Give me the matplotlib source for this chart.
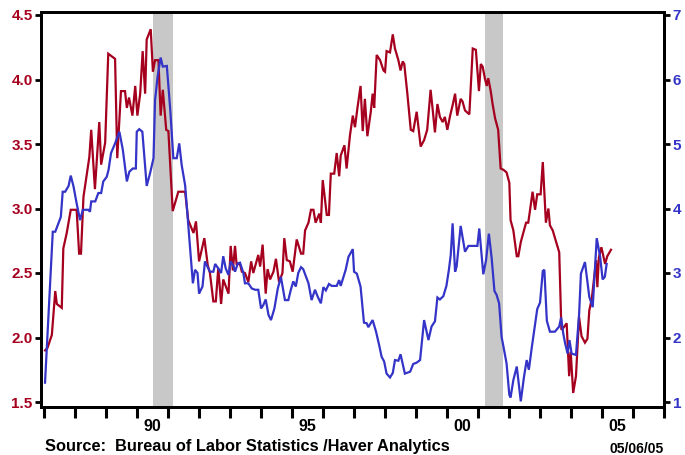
import matplotlib

matplotlib.use("Agg")
import matplotlib.pyplot as plt
from matplotlib.ticker import FixedLocator, FixedFormatter, NullFormatter

RED = "#a6001f"
BLUE = "#3434c8"
SHADE = "#c8c8c8"

# red series, left axis (decimal year, value)
red_years = [
    1987.04, 1987.12, 1987.26, 1987.37, 1987.42, 1987.58, 1987.63, 1987.74, 1987.87, 1988.06,
    1988.14, 1988.20, 1988.28, 1988.47, 1988.53, 1988.65, 1988.79, 1988.85, 1988.98, 1989.08,
    1989.30, 1989.37, 1989.49, 1989.62, 1989.68, 1989.75, 1989.86, 1989.95, 1990.02, 1990.11,
    1990.19, 1990.27, 1990.32, 1990.45, 1990.52, 1990.59, 1990.70, 1990.77, 1990.84, 1990.95,
    1991.02, 1991.16, 1991.34, 1991.56, 1991.66, 1991.83, 1991.91, 1992.01, 1992.18, 1992.29,
    1992.36, 1992.47, 1992.55, 1992.63, 1992.72, 1992.79, 1992.96, 1993.03, 1993.10, 1993.17,
    1993.22, 1993.33, 1993.39, 1993.49, 1993.60, 1993.69, 1993.76, 1993.92, 1993.98, 1994.06,
    1994.16, 1994.22, 1994.30, 1994.41, 1994.49, 1994.59, 1994.70, 1994.76, 1994.84, 1994.94,
    1995.03, 1995.16, 1995.30, 1995.37, 1995.43, 1995.54, 1995.62, 1995.70, 1995.77, 1995.89,
    1995.94, 1996.00, 1996.13, 1996.20, 1996.26, 1996.37, 1996.45, 1996.53, 1996.58, 1996.70,
    1996.77, 1996.88, 1996.97, 1997.04, 1997.12, 1997.22, 1997.29, 1997.36, 1997.44, 1997.55,
    1997.61, 1997.66, 1997.74, 1997.85, 1997.96, 1998.01, 1998.06, 1998.17, 1998.26, 1998.33,
    1998.44, 1998.51, 1998.58, 1998.63, 1998.73, 1998.84, 1998.92, 1999.03, 1999.16, 1999.27,
    1999.37, 1999.48, 1999.55, 1999.62, 1999.70, 1999.78, 1999.87, 1999.94, 2000.02, 2000.11,
    2000.19, 2000.27, 2000.34, 2000.45, 2000.51, 2000.59, 2000.73, 2000.84, 2000.94, 2001.04,
    2001.10, 2001.16, 2001.23, 2001.29, 2001.34, 2001.42, 2001.48, 2001.56, 2001.66, 2001.74,
    2001.83, 2001.93, 2002.02, 2002.06, 2002.15, 2002.26, 2002.31, 2002.39, 2002.49, 2002.56,
    2002.63, 2002.69, 2002.77, 2002.85, 2002.92, 2003.03, 2003.10, 2003.20, 2003.28, 2003.33,
    2003.42, 2003.53, 2003.63, 2003.70, 2003.78, 2003.87, 2003.95, 2004.00, 2004.08, 2004.17,
    2004.27, 2004.35, 2004.46, 2004.54, 2004.60, 2004.68, 2004.75, 2004.82, 2004.86, 2004.91,
    2004.99, 2005.11, 2005.18, 2005.30,
]
red_values = [
    1.90, 1.92, 2.02, 2.36, 2.26, 2.23, 2.69, 2.81, 2.99, 2.99,
    2.65, 2.65, 3.09, 3.40, 3.61, 3.15, 3.67, 3.34, 3.51, 4.20,
    4.16, 3.39, 3.91, 3.91, 3.78, 3.86, 3.72, 3.95, 3.72, 3.89,
    4.22, 3.89, 4.31, 4.39, 4.06, 4.15, 4.15, 3.72, 3.92, 3.61,
    3.60, 2.98, 3.13, 3.13, 2.91, 2.81, 2.90, 2.59, 2.77, 2.56,
    2.50, 2.28, 2.28, 2.54, 2.26, 2.45, 2.34, 2.71, 2.52, 2.71,
    2.57, 2.57, 2.51, 2.50, 2.43, 2.59, 2.50, 2.64, 2.55, 2.72,
    2.34, 2.53, 2.45, 2.51, 2.61, 2.43, 2.50, 2.77, 2.60, 2.59,
    2.51, 2.76, 2.65, 2.65, 2.83, 2.89, 2.99, 2.99, 2.89, 2.96,
    2.89, 3.22, 2.95, 2.95, 3.27, 3.27, 3.43, 3.25, 3.41, 3.49,
    3.31, 3.57, 3.72, 3.63, 3.78, 3.95, 3.60, 3.85, 3.56, 3.75,
    3.89, 3.78, 4.19, 4.15, 4.07, 4.06, 4.22, 4.21, 4.35, 4.24,
    4.15, 4.07, 4.14, 4.12, 3.89, 3.61, 3.60, 3.75, 3.48, 3.53,
    3.61, 3.92, 3.76, 3.59, 3.81, 3.71, 3.67, 3.71, 3.61, 3.72,
    3.80, 3.89, 3.72, 3.85, 3.83, 3.76, 3.73, 4.24, 4.23, 3.91,
    4.12, 4.10, 4.01, 3.95, 4.01, 3.91, 3.81, 3.70, 3.61, 3.31,
    3.30, 3.28, 3.20, 2.91, 2.83, 2.63, 2.63, 2.74, 2.83, 2.89,
    2.89, 2.99, 3.13, 2.99, 3.11, 3.11, 3.36, 2.89, 3.00, 2.87,
    2.83, 2.74, 2.66, 2.06, 2.08, 2.11, 1.70, 1.89, 1.57, 1.70,
    2.16, 2.01, 1.96, 1.99, 2.21, 2.30, 2.45, 2.60, 2.39, 2.62,
    2.70, 2.57, 2.63, 2.68,
]

# blue series, right axis (decimal year, value)
blue_years = [
    1987.04, 1987.12, 1987.29, 1987.37, 1987.55, 1987.61, 1987.69, 1987.80, 1987.87, 1987.96,
    1988.06, 1988.17, 1988.26, 1988.44, 1988.49, 1988.53, 1988.66, 1988.76, 1988.85, 1988.92,
    1989.03, 1989.09, 1989.17, 1989.30, 1989.44, 1989.55, 1989.68, 1989.76, 1989.87, 1989.97,
    1990.00, 1990.08, 1990.18, 1990.32, 1990.43, 1990.54, 1990.59, 1990.67, 1990.77, 1990.84,
    1990.97, 1991.08, 1991.18, 1991.29, 1991.37, 1991.45, 1991.56, 1991.67, 1991.81, 1991.88,
    1991.96, 1992.01, 1992.12, 1992.20, 1992.36, 1992.47, 1992.53, 1992.63, 1992.72, 1992.79,
    1992.87, 1992.96, 1993.03, 1993.12, 1993.17, 1993.26, 1993.33, 1993.44, 1993.49, 1993.60,
    1993.71, 1993.82, 1993.92, 1994.01, 1994.08, 1994.16, 1994.25, 1994.33, 1994.44, 1994.55,
    1994.65, 1994.78, 1994.89, 1994.97, 1995.05, 1995.13, 1995.21, 1995.30, 1995.37, 1995.54,
    1995.64, 1995.75, 1995.84, 1995.94, 1996.02, 1996.10, 1996.20, 1996.29, 1996.45, 1996.53,
    1996.58, 1996.67, 1996.74, 1996.83, 1996.97, 1997.01, 1997.10, 1997.22, 1997.33, 1997.42,
    1997.47, 1997.61, 1997.72, 1997.83, 1997.90, 1997.98, 1998.06, 1998.17, 1998.26, 1998.33,
    1998.44, 1998.51, 1998.58, 1998.65, 1998.82, 1998.92, 1999.03, 1999.14, 1999.27, 1999.41,
    1999.51, 1999.62, 1999.70, 1999.78, 1999.89, 1999.99, 2000.07, 2000.13, 2000.19, 2000.27,
    2000.32, 2000.45, 2000.59, 2000.70, 2000.99, 2001.05, 2001.18, 2001.27, 2001.36, 2001.45,
    2001.54, 2001.61, 2001.69, 2001.77, 2001.83, 2001.93, 2002.02, 2002.06, 2002.15, 2002.26,
    2002.31, 2002.39, 2002.49, 2002.58, 2002.65, 2002.74, 2002.82, 2002.92, 2003.01, 2003.10,
    2003.15, 2003.23, 2003.33, 2003.49, 2003.63, 2003.69, 2003.76, 2003.82, 2003.90, 2003.96,
    2004.03, 2004.17, 2004.27, 2004.33, 2004.46, 2004.60, 2004.71, 2004.84, 2004.95, 2005.03,
    2005.10, 2005.16,
]
blue_values = [
    1.30, 2.04, 3.64, 3.64, 3.87, 4.26, 4.26, 4.35, 4.51, 4.34,
    4.08, 3.82, 3.98, 3.98, 3.95, 4.11, 4.11, 4.24, 4.24, 4.42,
    4.49, 4.60, 4.86, 5.01, 5.19, 4.91, 4.42, 4.57, 4.62, 4.62,
    5.19, 5.23, 5.19, 4.35, 4.55, 4.78, 5.68, 6.04, 6.34, 6.20,
    6.21, 5.53, 4.78, 4.78, 5.01, 4.67, 4.36, 3.69, 2.84, 3.05,
    3.00, 2.68, 2.79, 3.18, 3.02, 3.02, 3.14, 3.07, 3.00, 3.26,
    3.07, 2.97, 3.18, 3.11, 3.02, 3.15, 3.16, 3.00, 2.84, 2.84,
    2.76, 2.74, 2.74, 2.45, 2.50, 2.59, 2.35, 2.27, 2.45, 2.76,
    2.94, 2.58, 2.58, 2.74, 2.87, 2.79, 3.00, 3.09, 3.06, 2.84,
    2.58, 2.74, 2.63, 2.53, 2.78, 2.73, 2.83, 2.80, 2.80, 2.89,
    2.80, 2.94, 3.05, 3.25, 3.37, 3.02, 2.99, 2.79, 2.23, 2.22,
    2.16, 2.27, 2.09, 1.86, 1.70, 1.63, 1.44, 1.38, 1.45, 1.65,
    1.64, 1.74, 1.59, 1.44, 1.47, 1.59, 1.61, 1.65, 2.27, 1.96,
    2.17, 2.25, 2.62, 2.59, 2.64, 2.80, 3.05, 3.28, 3.77, 3.02,
    3.10, 3.73, 3.33, 3.42, 3.42, 3.69, 2.98, 3.20, 3.61, 3.23,
    2.72, 2.66, 2.53, 2.01, 1.86, 1.60, 1.11, 1.07, 1.34, 1.55,
    1.34, 1.01, 1.38, 1.65, 1.50, 1.83, 2.10, 2.44, 2.54, 3.03,
    3.05, 2.26, 2.09, 2.09, 2.17, 2.31, 2.06, 1.91, 1.75, 1.96,
    1.75, 1.73, 2.35, 2.99, 3.17, 2.63, 2.47, 3.54, 3.25, 2.90,
    2.94, 3.14,
]

recessions = [(1990.53, 1991.16), (2001.23, 2001.82)]
year_ticks = list(range(1987, 2008))
label_years = [1990.5, 1995.5, 2000.5, 2005.5]
label_text = ["90", "95", "00", "05"]
left_ticks = [1.5, 2.0, 2.5, 3.0, 3.5, 4.0, 4.5]
right_ticks = [1, 2, 3, 4, 5, 6, 7]

FONT = "Liberation Sans"


def main() -> None:
    plt.rcParams["font.family"] = [FONT, "DejaVu Sans"]
    plt.rcParams["font.weight"] = "bold"

    fig = plt.figure(figsize=(6.85, 4.55), dpi=100)
    ax = fig.add_axes([41 / 685, 1 - 406.5 / 455, (664.3 - 41) / 685, (406.5 - 12) / 455])
    ax2 = ax.twinx()

    for a, b in recessions:
        ax.axvspan(a, b, color=SHADE, lw=0, zorder=0)

    ax.plot(red_years, red_values, color=RED, lw=1.6, solid_joinstyle="miter", zorder=3)
    ax2.plot(blue_years, blue_values, color=BLUE, lw=1.6, solid_joinstyle="miter", zorder=3)

    ax.set_xlim(1986.91, 2007.02)
    ax.set_ylim(4.5 - 391.5 / 129, 4.5 + 3 / 129)
    ax2.set_ylim(7 - 391.5 / 64.5, 7 + 3 / 64.5)

    ax.xaxis.set_major_locator(FixedLocator(year_ticks))
    ax.xaxis.set_major_formatter(NullFormatter())
    ax.xaxis.set_minor_locator(FixedLocator(label_years))
    ax.xaxis.set_minor_formatter(FixedFormatter(label_text))
    ax.tick_params(axis="x", which="major", direction="out", length=8, width=2.2, color="black")
    ax.tick_params(axis="x", which="minor", length=0, pad=9, labelsize=11.5)

    ax.set_yticks(left_ticks)
    ax.set_yticklabels([f"{v:.1f}" for v in left_ticks])
    ax.tick_params(axis="y", direction="out", length=4, width=2, labelsize=11, labelcolor=RED, pad=2)
    ax2.set_yticks(right_ticks)
    ax2.set_yticklabels([str(v) for v in right_ticks])
    ax2.tick_params(axis="y", direction="out", length=4, width=2, labelsize=11, labelcolor=BLUE, pad=2)

    for a in (ax, ax2):
        for sp in a.spines.values():
            sp.set_linewidth(2.0)
            sp.set_color("black")

    fig.text(45 / 685, 1 - 447 / 455, "Source:  Bureau of Labor Statistics /Haver Analytics",
             fontsize=11.8, fontweight="bold", va="center", ha="left")
    fig.text(664 / 685, 1 - 449 / 455, "05/06/05", fontsize=10, fontweight="bold", va="center", ha="right")

    fig.savefig("out.png", dpi=100)
    plt.close(fig)


if __name__ == "__main__":
    main()
